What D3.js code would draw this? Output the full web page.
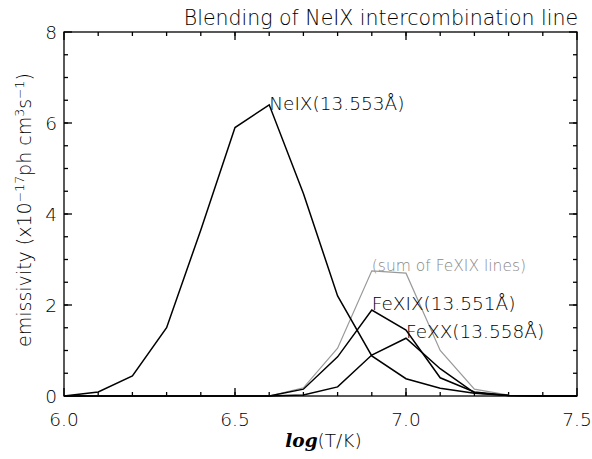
<!DOCTYPE html>
<html>
<head>
<meta charset="utf-8">
<script src="https://cdn.jsdelivr.net/npm/d3@7"></script>
<style>
  body { margin: 0; background: #fff; }
  svg text { font-family: "DejaVu Sans", sans-serif; font-weight: 200; fill: #000; }
</style>
</head>
<body>
<div id="chart"></div>
<script>
// log(T/K) grid and emissivities (x1e-17 ph cm^3 s^-1)
var logT   = [6.0, 6.1, 6.2, 6.3, 6.4, 6.5, 6.6, 6.7, 6.8, 6.9, 7.0, 7.1, 7.2, 7.3, 7.4, 7.5]
var neIX   = [0, 0.09, 0.44, 1.5, 3.65, 5.9, 6.4, 4.45, 2.2, 0.88, 0.38, 0.17, 0.06, 0.01, 0, 0]
var feXIX  = [0, 0, 0, 0, 0, 0, 0, 0.15, 0.86, 1.89, 1.45, 0.4, 0.09, 0.01, 0, 0]
var feXX   = [0, 0, 0, 0, 0, 0, 0, 0.02, 0.2, 0.9, 1.27, 0.6, 0.07, 0.01, 0, 0]
var feXIXsum = [0, 0, 0, 0, 0, 0, 0, 0.18, 1.05, 2.75, 2.7, 1.0, 0.15, 0.02, 0, 0]

var xMajor = [6.0, 6.5, 7.0, 7.5]
var yMajor = [0, 2, 4, 6, 8]

var width = 592, height = 459
var margin = {top: 32, right: 15, bottom: 63, left: 64}
var w = width - margin.left - margin.right
var h = height - margin.top - margin.bottom

var svg = d3.select("#chart").append("svg")
  .attr("width", width)
  .attr("height", height)

var g = svg.append("g")
  .attr("transform", "translate(" + margin.left + "," + margin.top + ")")

var x = d3.scaleLinear().domain([6.0, 7.5]).range([0, w])
var y = d3.scaleLinear().domain([0, 8]).range([h, 0])

// frame
g.append("rect")
  .attr("width", w).attr("height", h)
  .attr("fill", "none").attr("stroke", "#000").attr("stroke-width", 1.3)

// inward ticks on all four sides
var xMinor = d3.range(61, 75).map(d => d / 10)
var yMinor = d3.range(1, 16).map(d => d / 2)

function tickLines(vals, len, horizontal) {
  vals.forEach(v => {
    if (horizontal) {
      g.append("line").attr("x1", x(v)).attr("x2", x(v)).attr("y1", h).attr("y2", h - len)
      g.append("line").attr("x1", x(v)).attr("x2", x(v)).attr("y1", 0).attr("y2", len)
    } else {
      g.append("line").attr("y1", y(v)).attr("y2", y(v)).attr("x1", 0).attr("x2", len)
      g.append("line").attr("y1", y(v)).attr("y2", y(v)).attr("x1", w).attr("x2", w - len)
    }
  })
}
tickLines(xMinor, 4, true)
tickLines(xMajor, 8, true)
tickLines(yMinor, 4, false)
tickLines(yMajor, 8, false)
g.selectAll("line").attr("stroke", "#000").attr("stroke-width", 1.3)

// tick labels
g.selectAll(".xl").data(xMajor).enter().append("text")
  .attr("x", d => x(d)).attr("y", h + 30)
  .attr("text-anchor", "middle").style("font-size", "18.5px")
  .text(d => d3.format(".1f")(d))

g.selectAll(".yl").data(yMajor).enter().append("text")
  .attr("x", -7).attr("y", d => y(d) + 7)
  .attr("text-anchor", "end").style("font-size", "18.5px")
  .text(d => d)

// curves
var line = d3.line().x((d, i) => x(logT[i])).y(d => y(d))

g.append("path").datum(feXIXsum).attr("d", line)
  .attr("fill", "none").attr("stroke", "#999").attr("stroke-width", 1.2)

;[neIX, feXIX, feXX].forEach(s => {
  g.append("path").datum(s).attr("d", line)
    .attr("fill", "none").attr("stroke", "#000").attr("stroke-width", 1.5)
})

// line labels, baseline at the data point
function label(t, v, txt, size, col) {
  g.append("text").attr("x", x(t)).attr("y", y(v))
    .style("font-size", size).style("fill", col).text(txt)
}
label(6.6, 6.28, "NeIX(13.553Å)", "18.5px", "#000")
label(6.9, 1.9, "FeXIX(13.551Å)", "18.5px", "#000")
label(7.0, 1.28, "FeXX(13.558Å)", "18.5px", "#000")
label(6.9, 2.75, "(sum of FeXIX lines)", "15.5px", "#888")

// title and axis titles
svg.append("text")
  .attr("x", 578).attr("y", 25)
  .attr("text-anchor", "end").style("font-size", "20.5px")
  .text("Blending of NeIX intercombination line")

svg.append("text")
  .attr("x", margin.left + w / 2 + 3).attr("y", 447)
  .attr("text-anchor", "middle").style("font-size", "18.5px")
  .call(t => {
    t.append("tspan").style("font-family", "'DejaVu Serif', serif").style("font-style", "italic").style("font-weight", "bold").text("log")
    t.append("tspan").text("(T/K)")
  })

svg.append("text")
  .attr("transform", "translate(31,210) rotate(-90)")
  .attr("text-anchor", "middle").style("font-size", "19px")
  .call(t => {
    t.append("tspan").text("emissivity (x10")
    t.append("tspan").attr("dy", -7).style("font-size", "12.5px").text("−17")
    t.append("tspan").attr("dy", 7).text("ph cm")
    t.append("tspan").attr("dy", -7).style("font-size", "12.5px").text("3")
    t.append("tspan").attr("dy", 7).text("s")
    t.append("tspan").attr("dy", -7).style("font-size", "12.5px").text("−1")
    t.append("tspan").attr("dy", 7).text(")")
  })
</script>
</body>
</html>
